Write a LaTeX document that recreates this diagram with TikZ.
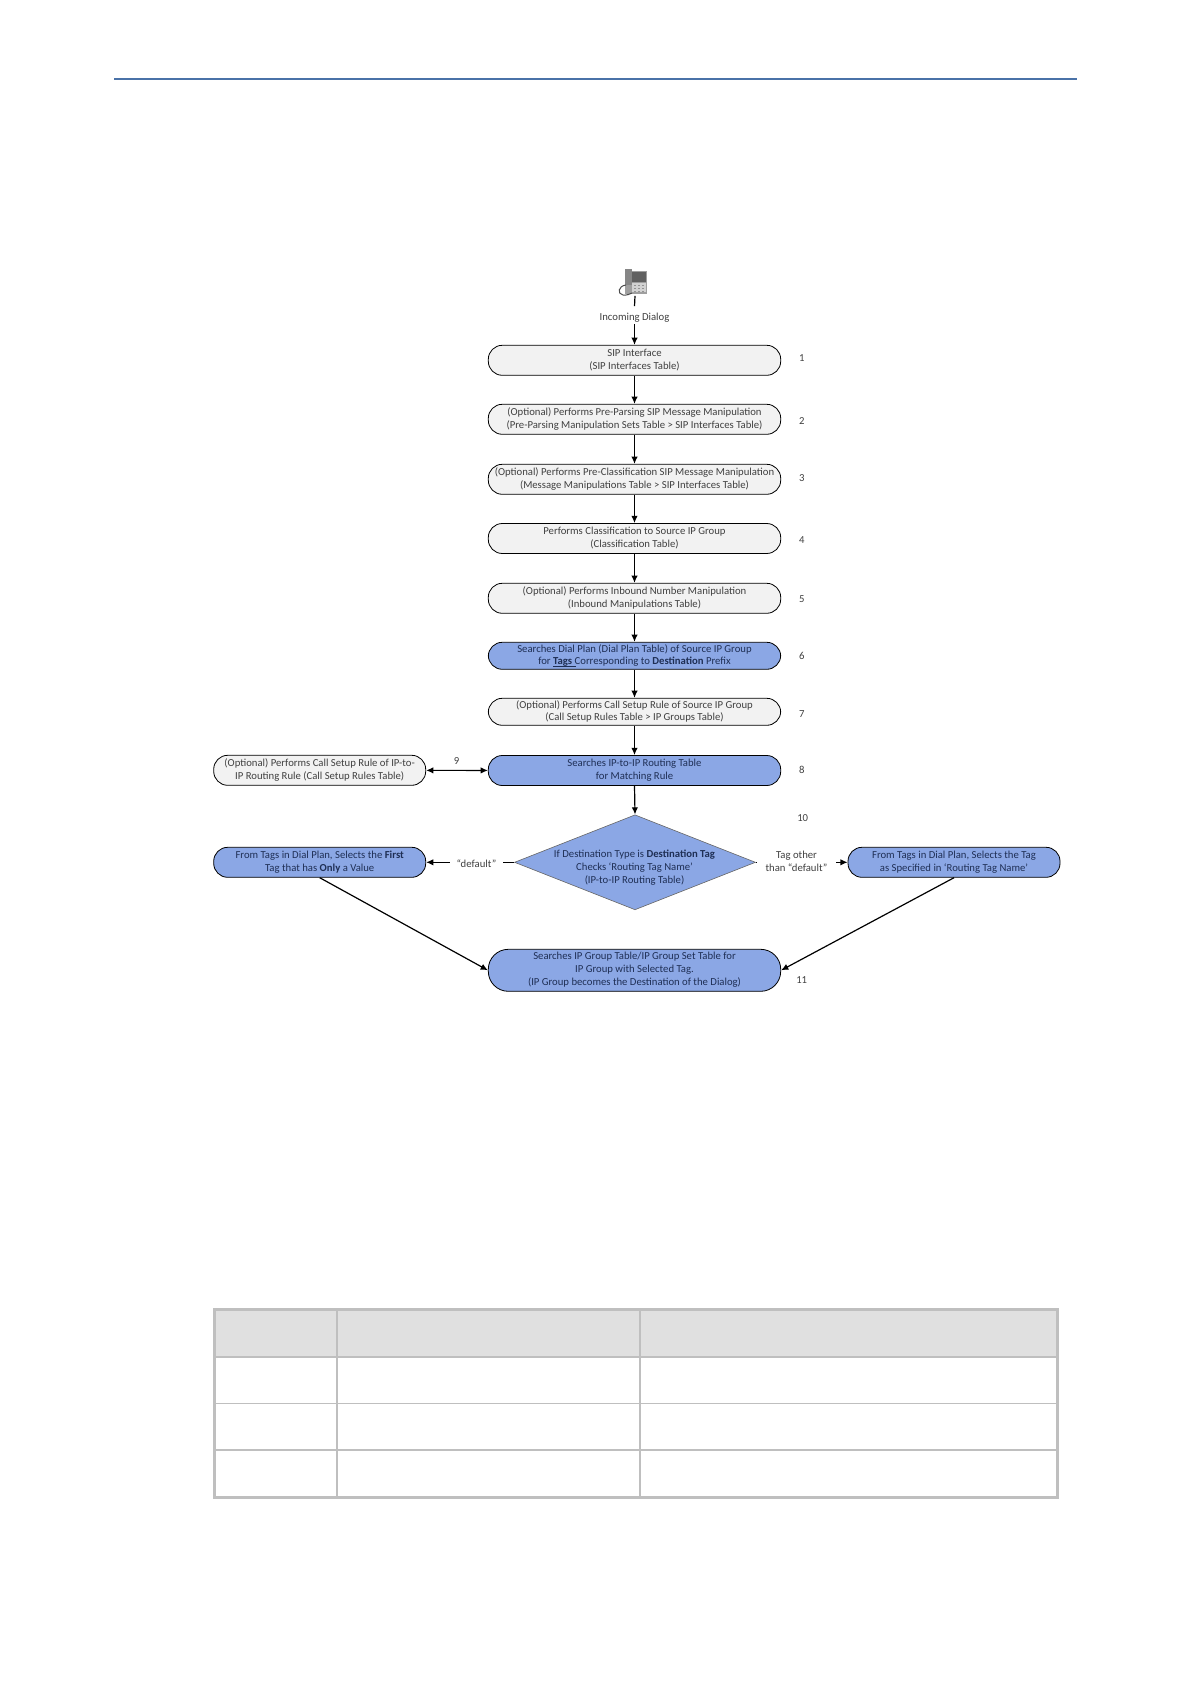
\documentclass[tikz,border=0pt]{standalone}
\usepackage{fontspec}
\setmainfont{Carlito}
\usetikzlibrary{shapes.geometric,arrows.meta}
\definecolor{boxgrey}{HTML}{F2F2F2}
\definecolor{boxblue}{HTML}{8BA7E5}
\definecolor{txtgrey}{HTML}{404040}
\definecolor{txtblue}{HTML}{1F2F55}
\definecolor{rulecol}{HTML}{4A72A8}
\definecolor{tblline}{HTML}{BFBFBF}
\definecolor{tblhead}{HTML}{E0E0E0}
\newcommand{\dfont}{\fontsize{5.35}{6.4}\selectfont}
\tikzset{
  x=0.5pt,y=-0.5pt,
  every node/.style={font=\dfont,align=center,inner sep=0pt,text=txtgrey,
    execute at begin node={\rule{0pt}{6.7pt}},
    execute at end node={\rule[-1.3pt]{0pt}{1.3pt}}},
  flowbox/.style={draw=black,line width=0.4pt,rounded corners=7pt,minimum width=146.2pt,minimum height=15pt,fill=boxgrey,
    execute at begin node={\mbox{}\\[-5.4pt]}},
  bluebox/.style={flowbox,fill=boxblue,text=txtblue},
  sidebox/.style={minimum width=106pt},
  numlabel/.style={text=black!75},
  conn/.style={draw=black,line width=0.6pt,-{Latex[length=3.6pt,width=3.2pt]}},
  plain/.style={draw=black,line width=0.6pt},
  bothconn/.style={draw=black,line width=0.6pt,{Latex[length=3.6pt,width=3.2pt]}-{Latex[length=3.6pt,width=3.2pt]}},
  tblthick/.style={draw=tblline,line width=1.25pt},
  tblmid/.style={draw=tblline,line width=0.8pt},
  tblthin/.style={draw=tblline,line width=0.55pt},
}
\begin{document}
\begin{tikzpicture}
\useasboundingbox (0,0) rectangle (1191,1684);
\fill[white] (0,0) rectangle (1191,1684);
% page rule
\draw[rulecol,line width=1pt] (114,79) -- (1077,79);

% phone
\node[minimum width=14pt,minimum height=13pt] (phone) at (635,282.5) {};
\fill[gray!75] (625,271) rectangle (647,294);
\fill[black!62] (632,272.5) rectangle (646,282);
\fill[gray!35] (632,283.5) rectangle (646,292.5);
\foreach \xx in {634,638,642}{\foreach \yy in {285,288,291}{\fill[gray!85] (\xx,\yy) rectangle ++(2.4,1.5);}}
\fill[gray!95] (625,269) rectangle (631.5,285);
\draw[black!70,line width=0.5pt] (626,285) .. controls (618,286) and (617,294) .. (623,295) .. controls (627,295.5) and (630,294) .. (632,293);

% flow boxes
\node[flowbox] (b1) at (634.5,360.3) {SIP Interface\\(SIP Interfaces Table)};
\node[flowbox] (b2) at (634.5,419.3) {(Optional) Performs Pre-Parsing SIP Message Manipulation\\(Pre-Parsing Manipulation Sets Table > SIP Interfaces Table)};
\node[flowbox] (b3) at (634.5,479.3) {(Optional) Performs Pre-Classification SIP Message Manipulation\\(Message Manipulations Table > SIP Interfaces Table)};
\node[flowbox] (b4) at (634.5,538.5) {Performs Classification to Source IP Group\\(Classification Table)};
\node[flowbox] (b5) at (634.5,598.3) {(Optional) Performs Inbound Number Manipulation\\(Inbound Manipulations Table)};
\node[bluebox,minimum height=13.5pt] (b6) at (634.5,655.8) {Searches Dial Plan (Dial Plan Table) of Source IP Group\\for \makebox[0pt][l]{\rule[-0.8pt]{11.5pt}{0.35pt}}\textbf{Tags\ }Corresponding to \textbf{Destination} Prefix};
\node[flowbox,minimum height=13.5pt] (b7) at (634.5,711.8) {(Optional) Performs Call Setup Rule of Source IP Group\\(Call Setup Rules Table > IP Groups Table)};
\node[bluebox] (b8) at (634.5,770.5) {Searches IP-to-IP Routing Table\\for Matching Rule};
\node[flowbox,sidebox] (b9) at (319.7,770.3) {(Optional) Performs Call Setup Rule of IP-to-\\IP Routing Rule (Call Setup Rules Table)};
\node[bluebox,sidebox] (lblue) at (319.7,862.3) {From Tags in Dial Plan, Selects the \textbf{First}\\Tag that has \textbf{Only} a Value};
\node[bluebox,sidebox] (rblue) at (954,862.3) {From Tags in Dial Plan, Selects the Tag\\as Specified in ‘Routing Tag Name’};
\node[bluebox,minimum height=21pt,rounded corners=10pt] (b11) at (634.5,970.3) {Searches IP Group Table/IP Group Set Table for\\IP Group with Selected Tag.\\(IP Group becomes the Destination of the Dialog)};
\node[diamond,draw=black!60,line width=0.3pt,fill=boxblue,aspect=2.52,minimum width=120.5pt,minimum height=47.5pt] (dia) at (635,862.3) {};
\node[text=txtblue] (diatext) at (634.5,868) {If Destination Type is \textbf{Destination Tag}\\Checks ‘Routing Tag Name’\\(IP-to-IP Routing Table)};

% labels
\node (inc) at (634.5,315) [minimum height=8.5pt] {Incoming Dialog};
\node[minimum width=26.5pt,minimum height=8pt,execute at begin node={\rule{0pt}{4.7pt}}] (dflt) at (476.5,862.3) {“default”};
\node[minimum width=39.5pt,minimum height=13pt] (tago) at (796.5,862.3) {Tag other\\than “default”};
\node[numlabel] (n1) at (801.7,356) {1};
\node[numlabel] (n2) at (801.7,419) {2};
\node[numlabel] (n3) at (801.7,476) {3};
\node[numlabel] (n4) at (801.7,538) {4};
\node[numlabel] (n5) at (801.7,597) {5};
\node[numlabel] (n6) at (801.7,654.5) {6};
\node[numlabel] (n7) at (801.7,712) {7};
\node[numlabel] (n8) at (801.7,768) {8};
\node[numlabel] (n9) at (456.7,759) {9};
\node[numlabel] (n10) at (802.7,816) {10};
\node[numlabel] (n11) at (801.7,977.7) {11};

% connectors
\draw[plain] (phone.south) -- (inc.north);
\draw[conn] (inc.south) -- (b1.north);
\draw[conn] (b1) -- (b2);
\draw[conn] (b2) -- (b3);
\draw[conn] (b3) -- (b4);
\draw[conn] (b4) -- (b5);
\draw[conn] (b5) -- (b6);
\draw[conn] (b6) -- (b7);
\draw[conn] (b7) -- (b8);
\draw[conn] (b8.south) -- (dia.north);
\draw[bothconn] (b9) -- (b8);
\draw[plain] (dia.west) -- (dflt.east);
\draw[conn] (dflt.west) -- (lblue.east);
\draw[plain] (dia.east) -- (tago.west);
\draw[conn] (tago.east) -- (rblue.west);
\draw[conn] (lblue.south) -- (b11.west);
\draw[conn] (rblue.south) -- (b11.east);

% table
\fill[tblhead] (214.7,1309.3) rectangle (1057.3,1357);
\draw[tblmid] (337,1309.3) -- (337,1497.3);
\draw[tblmid] (640,1309.3) -- (640,1497.3);
\draw[tblmid] (214.7,1357) -- (1057.3,1357);
\draw[tblthin] (214.7,1403.3) -- (1057.3,1403.3);
\draw[tblmid] (214.7,1450) -- (1057.3,1450);
\draw[tblthick] (214.7,1309.3) rectangle (1057.3,1497.3);
\end{tikzpicture}
\end{document}
